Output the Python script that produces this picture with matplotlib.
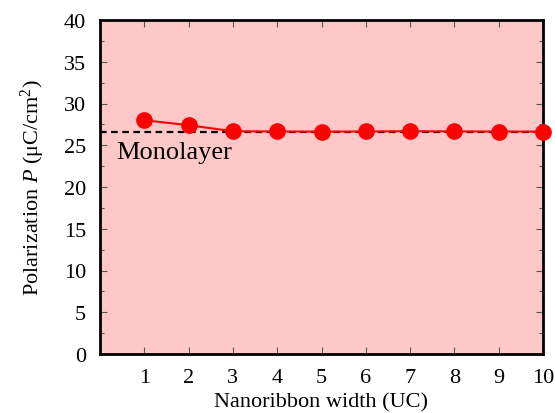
import matplotlib
matplotlib.use("Agg")
import matplotlib.pyplot as plt
from matplotlib.ticker import MultipleLocator

plt.rcParams['font.family'] = ['Liberation Serif', 'DejaVu Serif']
plt.rcParams['mathtext.fontset'] = 'custom'
plt.rcParams['mathtext.it'] = 'Liberation Serif:italic'
plt.rcParams['mathtext.rm'] = 'Liberation Serif'

widths = [1, 2, 3, 4, 5, 6, 7, 8, 9, 10]
polarization = [28.0, 27.4, 26.68, 26.65, 26.63, 26.65, 26.68, 26.66, 26.64, 26.64]
monolayer = 26.6

fig = plt.figure(figsize=(5.55, 4.14), dpi=100)
ax = fig.add_axes([100/555, 1-355/414, 443/555, 334/414])
ax.set_facecolor('#FFC8C8')
ax.axhline(monolayer, color='black', linestyle=(0, (3, 2)), linewidth=1.6, zorder=2)
ax.plot(widths, polarization, color='red', marker='o', markersize=11,
        linewidth=1.5, zorder=3, clip_on=False)
ax.text(0.37, monolayer - 1.1, 'Monolayer', fontsize=19, va='top', ha='left')

ax.set_xlim(0, 10)
ax.set_ylim(0, 40)
ax.set_xticks(widths)
ax.yaxis.set_major_locator(MultipleLocator(5))
ax.yaxis.set_minor_locator(MultipleLocator(2.5))
ax.tick_params(direction='in', which='both', top=True, right=True, labelsize=16,
               width=0.8, color='#555555')
ax.tick_params(which='major', length=5)
ax.tick_params(which='minor', length=3)
ax.tick_params(axis='x', pad=10)
ax.tick_params(axis='y', pad=10)
for s in ax.spines.values():
    s.set_linewidth(2)
ax.set_xlabel('Nanoribbon width (UC)', fontsize=16, labelpad=4)
ax.set_ylabel(r'Polarization $P$ ($\mathrm{\mu}$C/cm$^2$)', fontsize=16, labelpad=12)
fig.savefig('out.png', dpi=100)
